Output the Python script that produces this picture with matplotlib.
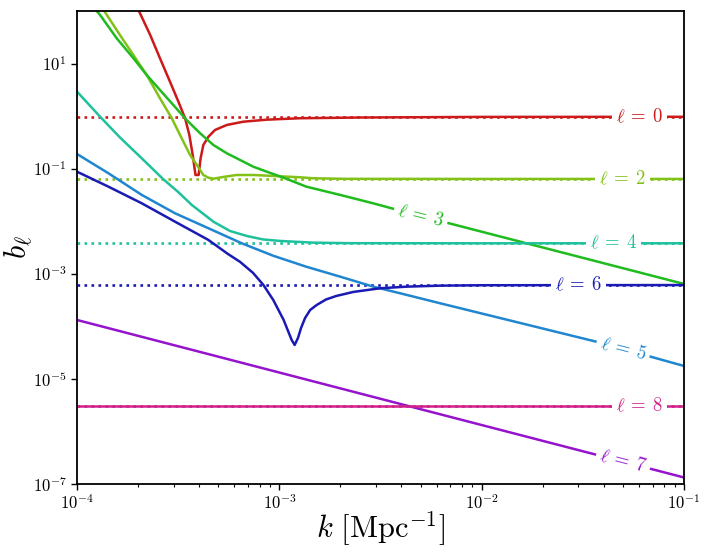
import numpy as np
import matplotlib
matplotlib.use("Agg")
import matplotlib.pyplot as plt
from matplotlib import ticker

plt.rcParams["mathtext.fontset"] = "cm"
plt.rcParams["font.family"] = "serif"

# ---------- data ----------
k0 = [2.03e-4, 2.30e-4, 2.57e-4, 2.88e-4, 3.17e-4, 3.42e-4, 3.59e-4, 3.73e-4,
      3.85e-4, 3.99e-4, 4.08e-4, 4.21e-4, 4.46e-4, 4.81e-4, 5.50e-4, 6.64e-4,
      8.67e-4, 1.26e-3, 2.5e-3, 1.0e-2, 1.0e-1]
b0 = [97, 34.9, 12.6, 4.52, 1.88, 0.91, 0.438, 0.182,
      0.0758, 0.0758, 0.157, 0.282, 0.405, 0.545, 0.678, 0.783,
      0.855, 0.91, 0.94, 0.965, 0.97]

k2 = [1.37e-4, 1.63e-4, 1.90e-4, 2.21e-4, 2.57e-4, 2.94e-4, 3.29e-4, 3.62e-4,
      3.91e-4, 4.21e-4, 4.46e-4, 4.72e-4, 5.28e-4, 6.15e-4, 7.43e-4, 9.33e-4,
      1.26e-3, 1.47e-3, 2.15e-3, 1.0e-2, 1.0e-1]
b2 = [97, 34.9, 14.5, 6.05, 2.18, 0.91, 0.378, 0.182,
      0.1175, 0.0758, 0.0673, 0.0644, 0.0695, 0.0758, 0.0758, 0.0726,
      0.0686, 0.0656, 0.064, 0.0637, 0.0637]

k3 = [1.25e-4, 1.30e-4, 1.57e-4, 1.90e-4, 2.21e-4, 2.57e-4, 2.99e-4, 3.48e-4,
      4.06e-4, 4.72e-4, 5.50e-4, 6.40e-4, 7.43e-4, 8.67e-4, 1.05e-3, 1.36e-3,
      2.0e-3, 2.91e-3, 3.73e-3, 6.71e-3, 1.0e-1]
b3 = [100, 84, 30.3, 12.6, 6.05, 3.14, 1.63, 0.843,
      0.471, 0.282, 0.196, 0.146, 0.109, 0.0875, 0.0673, 0.0454,
      0.0316, 0.0219, 0.0169, 9.38e-3, 6.4e-4]

k4 = [1.0e-4, 1.30e-4, 1.63e-4, 2.09e-4, 2.67e-4, 3.16e-4, 3.69e-4, 4.72e-4,
      5.70e-4, 6.90e-4, 8.30e-4, 1.01e-3, 1.47e-3, 2.2e-3, 1.0e-2, 1.0e-1]
b4 = [2.92, 0.975, 0.392, 0.157, 0.0628, 0.036, 0.0204, 9.8e-3,
      6.52e-3, 5.24e-3, 4.50e-3, 4.21e-3, 3.91e-3, 3.82e-3, 3.8e-3, 3.8e-3]

k5 = [1.0e-4, 1.43e-4, 2.09e-4, 3.05e-4, 4.46e-4, 6.52e-4, 9.33e-4, 1.36e-3,
      2.0e-3, 2.91e-3, 4.27e-3, 6.22e-3, 3.85e-2, 1.0e-1]
b5 = [0.19, 0.0817, 0.0316, 0.01416, 7.35e-3, 3.80e-3, 2.2e-3, 1.36e-3,
      8.8e-4, 5.69e-4, 3.95e-4, 2.75e-4, 4.89e-5, 1.76e-5]

k6 = [1.0e-4, 1.43e-4, 2.09e-4, 3.05e-4, 4.46e-4, 5.57e-4, 6.40e-4, 7.41e-4,
      8.34e-4, 9.33e-4, 1.05e-3, 1.15e-3, 1.19e-3, 1.236e-3, 1.28e-3, 1.34e-3,
      1.42e-3, 1.53e-3, 1.70e-3, 1.91e-3, 2.32e-3, 3.15e-3, 4.27e-3, 6.22e-3,
      1.0e-2, 1.0e-1]
b6 = [0.0875, 0.0454, 0.0219, 9.8e-3, 4.40e-3, 2.38e-3, 1.68e-3, 1.04e-3,
      6.12e-4, 3.17e-4, 1.32e-4, 5.51e-5, 4.42e-5, 6.01e-5, 9.3e-5, 1.44e-4,
      2.05e-4, 2.55e-4, 3.24e-4, 3.78e-4, 4.51e-4, 5.30e-4, 5.69e-4, 5.94e-4,
      6.05e-4, 6.1e-4]

k7 = [1.0e-4, 2.5e-3, 1.0e-1]
b7 = [1.32e-4, 5.28e-6, 1.33e-7]

k8 = [1.0e-4, 1.0e-1]
b8 = [3.0e-6, 3.0e-6]

ells = [0, 2, 3, 4, 5, 6, 7, 8]
ks = [k0, k2, k3, k4, k5, k6, k7, k8]
bs = [b0, b2, b3, b4, b5, b6, b7, b8]
colors = ["#cc1a1a", "#82c118", "#1fbb1f", "#1ec19b",
          "#1f86cf", "#1a1ab4", "#9513cc", "#d0208a"]

# asymptotic values of the even multipoles (dotted)
even_ells = [0, 2, 4, 6, 8]
asym = [0.97, 0.0637, 3.8e-3, 6.1e-4, 3.0e-6]

# inline label positions (k, b, angle in degrees)
lab_k = [0.060, 0.0494, 0.0050, 0.0447, 0.050, 0.030, 0.050, 0.060]
lab_b = [0.97, 0.0637, 0.0128, 3.8e-3, 3.7e-5, 6.1e-4, 2.7e-7, 3.0e-6]
lab_rot = [0, 0, -14.0, 0, -14.6, 0, -14.6, 0]

# ---------- figure ----------
fig = plt.figure(figsize=(7.06, 5.52), dpi=100)
ax = fig.add_axes([0.1091, 0.1232, 0.8598, 0.8569])

kx = [1e-4, 1e-1]
for ell, val in zip(even_ells, asym):
    c = colors[ells.index(ell)]
    ax.plot(kx, [val, val], ":", color=c, lw=1.9)

for k, b, c in zip(ks, bs, colors):
    ax.plot(k, b, "-", color=c, lw=1.8, solid_joinstyle="round")

for ell, x, y, r, c in zip(ells, lab_k, lab_b, lab_rot, colors):
    ax.text(x, y, rf"$\ell\:=\:{ell}$", color=c, fontsize=13.5, rotation=r,
            ha="center", va="center", rotation_mode="anchor",
            bbox=dict(facecolor="white", edgecolor="none", pad=3))

ax.set_xscale("log")
ax.set_yscale("log")
ax.set_xlim(1e-4, 1e-1)
ax.set_ylim(1e-7, 1e2)

fmt = ticker.FuncFormatter(lambda v, p: rf"$10^{{{int(round(np.log10(v)))}}}$")
ax.xaxis.set_major_locator(ticker.FixedLocator([1e-4, 1e-3, 1e-2, 1e-1]))
ax.xaxis.set_major_formatter(fmt)
ax.xaxis.set_minor_locator(ticker.LogLocator(base=10, subs=np.arange(2, 10)))
ax.xaxis.set_minor_formatter(ticker.NullFormatter())
ax.yaxis.set_major_locator(ticker.FixedLocator([1e-7, 1e-5, 1e-3, 1e-1, 1e1]))
ax.yaxis.set_major_formatter(fmt)
ax.yaxis.set_minor_locator(ticker.NullLocator())
ax.tick_params(which="major", labelsize=12, length=4, width=1)
ax.tick_params(which="minor", length=2.5, width=0.8)
for s in ax.spines.values():
    s.set_linewidth(1.3)

ax.set_xlabel(r"$k\ [\mathrm{Mpc}^{-1}]$", fontsize=22, labelpad=-3)
ax.set_ylabel(r"$b_\ell$", fontsize=22, labelpad=-2)

fig.savefig("out.png", dpi=100)
